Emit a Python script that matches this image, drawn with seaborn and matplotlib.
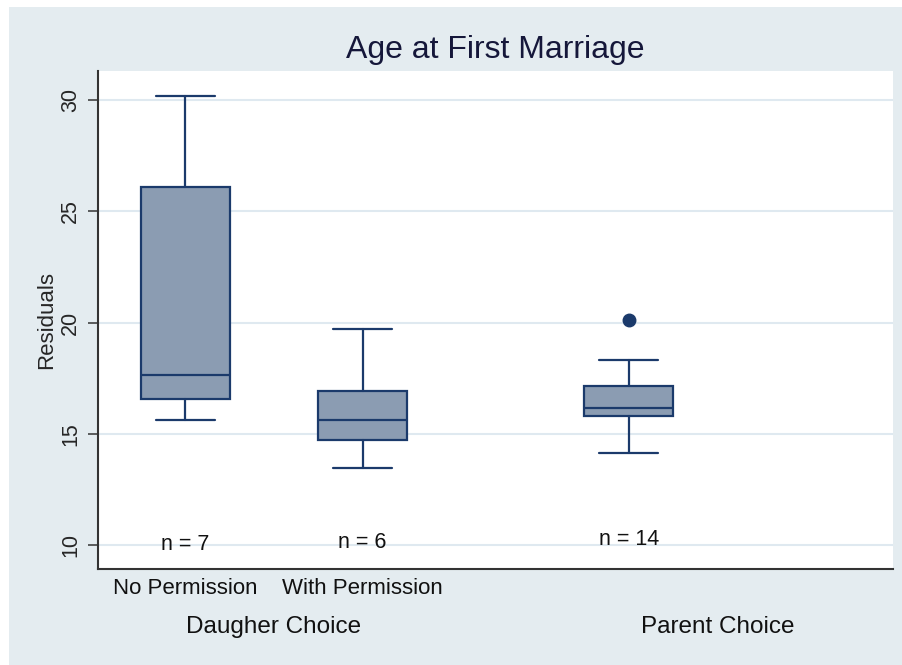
import matplotlib
matplotlib.use('Agg')
import matplotlib.pyplot as plt
import seaborn as sns
from matplotlib.patches import Rectangle

# Box summary values (residuals)
groups = ["No Permission", "With Permission", "Parent Choice"]
positions = [1.0, 2.0, 3.5]
whisker_low = [15.6, 13.48, 14.13]
q1 = [16.55, 14.72, 15.78]
median = [17.64, 15.63, 16.18]
q3 = [26.1, 16.94, 17.13]
whisker_high = [30.2, 19.71, 18.33]
outliers = [[], [], [20.13]]

n_labels = ["n = 7", "n = 6", "n = 14"]
n_label_y = [10.0, 10.1, 10.25]

sub_labels = ["No Permission", "With Permission"]
sub_label_x = [1.0, 2.0]
group_labels = ["Daugher Choice", "Parent Choice"]
group_label_x = [1.5, 4.0]

yticks = [10, 15, 20, 25, 30]

navy = "#1B3A6B"
box_fill = "#8B9CB2"
bg = "#E4ECF0"
grid_c = "#DFE9F0"

sns.set_theme(style="white")
plt.rcParams['font.family'] = ['Liberation Sans', 'DejaVu Sans']

fig = plt.figure(figsize=(9.03, 6.65), dpi=100, facecolor="white")
# outer graph region (Stata-like bluish gray background)
fig.patches.append(Rectangle((9 / 903, 0), 1, 1 - 7 / 665, transform=fig.transFigure,
                             facecolor=bg, edgecolor="none", zorder=-10))

ax = fig.add_axes([98 / 903, 96 / 665, 795 / 903, 498 / 665])
ax.set_facecolor("white")

stats = []
for i in range(len(groups)):
    stats.append({
        "label": groups[i],
        "whislo": whisker_low[i],
        "q1": q1[i],
        "med": median[i],
        "q3": q3[i],
        "whishi": whisker_high[i],
        "fliers": outliers[i],
    })

ax.bxp(stats, positions=positions, widths=0.5, capwidths=0.33, patch_artist=True,
       showfliers=True, manage_ticks=False,
       boxprops=dict(facecolor=box_fill, edgecolor=navy, linewidth=1.6),
       medianprops=dict(color=navy, linewidth=1.6),
       whiskerprops=dict(color=navy, linewidth=1.6),
       capprops=dict(color=navy, linewidth=1.6),
       flierprops=dict(marker="o", markerfacecolor=navy, markeredgecolor=navy,
                       markersize=9))

ax.set_xlim(0.508, 4.99)
ax.set_ylim(8.92, 31.31)
ax.set_yticks(yticks)
ax.set_yticklabels([str(t) for t in yticks], rotation=90, va="center", fontsize=15.5)
ax.set_xticks([])
ax.yaxis.grid(True, color=grid_c, linewidth=1.5)
ax.set_axisbelow(True)

ax.tick_params(axis="y", direction="out", length=7, width=1.1, color="#333333", pad=5,
               left=True)
for side in ["top", "right"]:
    ax.spines[side].set_visible(False)
for side in ["left", "bottom"]:
    ax.spines[side].set_color("#333333")
    ax.spines[side].set_linewidth(1.5)

ax.set_ylabel("Residuals", fontsize=16, labelpad=2)

for x, y, t in zip(positions, n_label_y, n_labels):
    ax.text(x, y, t, ha="center", va="center", fontsize=15.5, color="#111111")

for x, t in zip(sub_label_x, sub_labels):
    ax.annotate(t, xy=(x, 0), xycoords=("data", "axes fraction"), xytext=(0, -14),
                textcoords="offset points", ha="center", va="center", fontsize=16,
                color="#111111", annotation_clip=False)
for x, t in zip(group_label_x, group_labels):
    ax.annotate(t, xy=(x, 0), xycoords=("data", "axes fraction"), xytext=(0, -42),
                textcoords="offset points", ha="center", va="center", fontsize=17.5,
                color="#111111", annotation_clip=False)

fig.text(495 / 903, 1 - 50 / 665, "Age at First Marriage", ha="center", va="center",
         fontsize=23, color="#15173A")

fig.savefig("out.png", dpi=100, facecolor=fig.get_facecolor())
